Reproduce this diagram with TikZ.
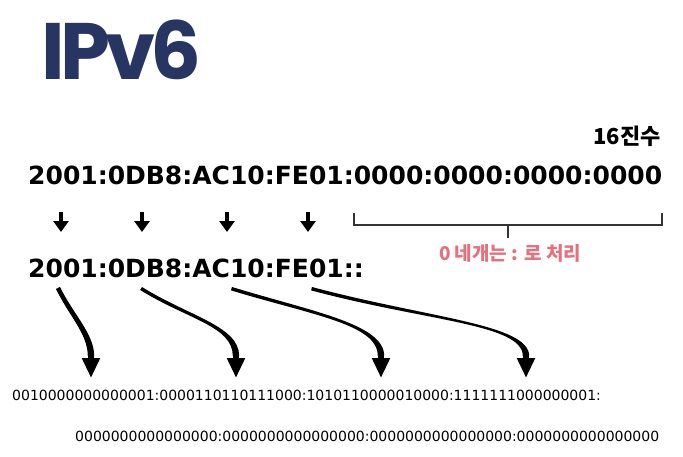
\documentclass[tikz,border=0pt]{standalone}
\usepackage{fontspec}
\setmainfont{DejaVu Sans}
\newfontfamily\titlefont[LetterSpace=-6]{Poppins}
\newfontfamily\krfont{Noto Sans CJK KR}
\usetikzlibrary{arrows.meta,calc}
\definecolor{ipnavy}{HTML}{263562}
\definecolor{notepink}{HTML}{E5707E}

\begin{document}
\begin{tikzpicture}[x=1pt,y=1pt,
    hexbig/.style={font=\bfseries\fontsize{25}{30}\selectfont,inner sep=0pt,anchor=base west},
    bintext/.style={font=\fontsize{14}{17}\selectfont,inner sep=0pt,anchor=west},
    downarrow/.style={line width=4pt,-{Triangle[width=15pt,length=11pt]}},
    bracketline/.style={line width=1.2pt,black!80},
    bendshaft/.style={fill=black},
    bendtip/.style={line width=6.5pt,-{Triangle[width=17pt,length=20pt]}}]
    \useasboundingbox (0,0) rectangle (683,456);

    % title and hex addresses
    \node[anchor=base west,inner sep=0pt,text=ipnavy,
        font=\titlefont\bfseries\fontsize{80}{90}\selectfont] (title) at (41,376) {IPv6};
    \node[anchor=base east,inner sep=0pt,
        font=\krfont\bfseries\fontsize{22}{26}\selectfont] (hexlabel) at (661,311) {16진수};
    \node[hexbig] (full)  at (28,271) {2001:0DB8:AC10:FE01:0000:0000:0000:0000};
    \node[hexbig] (short) at (28,179) {2001:0DB8:AC10:FE01::};

    % short arrows
    \coordinate (d1a) at (61,244);  \coordinate (d1b) at (61,224);
    \coordinate (d2a) at (142,244); \coordinate (d2b) at (142,224);
    \coordinate (d3a) at (227,244); \coordinate (d3b) at (227,224);
    \coordinate (d4a) at (308,244); \coordinate (d4b) at (308,224);
    \draw[downarrow] (d1a) -- (d1b);
    \draw[downarrow] (d2a) -- (d2b);
    \draw[downarrow] (d3a) -- (d3b);
    \draw[downarrow] (d4a) -- (d4b);

    % bracket over the zero groups
    \coordinate (brL)  at (354,243);
    \coordinate (brLb) at (354,231);
    \coordinate (brRb) at (662,231);
    \coordinate (brR)  at (662,243);
    \coordinate (brM)  at (508,231);
    \coordinate (brT)  at (508,218);
    \draw[bracketline] (brL) -- (brLb) -- (brRb) -- (brR);
    \draw[bracketline] (brM) -- (brT);
    \node[inner sep=0pt,text=notepink,
        font=\krfont\bfseries\fontsize{19}{23}\selectfont] (note) at (510,203) {0 네개는 : 로 처리};

    % bent arrows to binary
    \coordinate (c1s) at (60,169);  \coordinate (c1e) at (91,100);  \coordinate (c1h) at (91,78);
    \coordinate (c2s) at (142,169); \coordinate (c2e) at (236,100); \coordinate (c2h) at (236,78);
    \coordinate (c3s) at (232,169); \coordinate (c3e) at (381,100); \coordinate (c3h) at (381,78);
    \coordinate (c4s) at (312,169); \coordinate (c4e) at (526,100); \coordinate (c4h) at (526,78);

    \fill[bendshaft] (c1s) .. controls +(-64:30) and +(0,22) .. ($(c1e)+(3.2,0)$) -- ($(c1e)+(-3.2,0)$)
        .. controls +(0,22) and +(-64:30) .. ($(c1s)+(-154:4.5)$) -- cycle;
    \fill[bendshaft] (c2s) .. controls +(-32:55) and +(0,30) .. ($(c2e)+(3.2,0)$) -- ($(c2e)+(-3.2,0)$)
        .. controls +(0,30) and +(-32:55) .. ($(c2s)+(-122:3.5)$) -- cycle;
    \fill[bendshaft] (c3s) .. controls +(-17:85) and +(0,32) .. ($(c3e)+(3.2,0)$) -- ($(c3e)+(-3.2,0)$)
        .. controls +(0,32) and +(-17:85) .. ($(c3s)+(-107:3.5)$) -- cycle;
    \fill[bendshaft] (c4s) .. controls +(-15:120) and +(0,32) .. ($(c4e)+(3.2,0)$) -- ($(c4e)+(-3.2,0)$)
        .. controls +(0,32) and +(-15:120) .. ($(c4s)+(-105:3.5)$) -- cycle;
    \draw[bendtip] (c1e) -- (c1h);
    \draw[bendtip] (c2e) -- (c2h);
    \draw[bendtip] (c3e) -- (c3h);
    \draw[bendtip] (c4e) -- (c4h);

    % binary form
    \node[bintext] (binA) at (12,61) {0010000000000001:0000110110111000:1010110000010000:1111111000000001:};
    \node[bintext] (binB) at (75,20) {0000000000000000:0000000000000000:0000000000000000:0000000000000000};
\end{tikzpicture}
\end{document}
